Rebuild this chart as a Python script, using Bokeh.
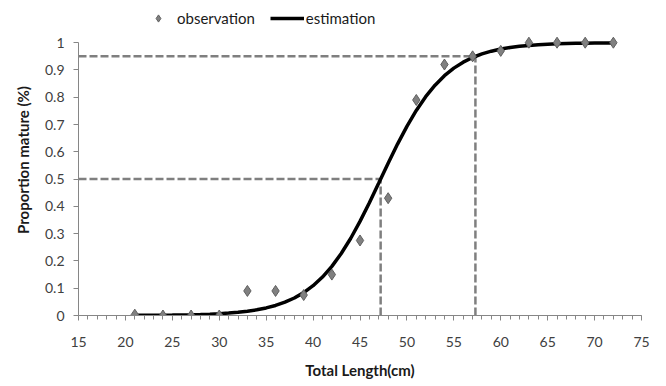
from bokeh.plotting import figure
from bokeh.models import FixedTicker, NumeralTickFormatter, Legend, LegendItem, Range1d
from bokeh.embed import file_html
from bokeh.resources import INLINE

# observations
obs_length = [21, 24, 27, 30, 33, 36, 39, 42, 45, 48, 51, 54, 57, 60, 63, 66, 69, 72]
obs_prop = [0.003, 0.0, 0.0, 0.0, 0.09, 0.09, 0.075, 0.15, 0.275, 0.43, 0.79, 0.92,
            0.95, 0.97, 1.0, 1.0, 1.0, 1.0]

# estimated maturity curve
est_length = list(range(21, 73))
est_prop = [0.0005, 0.0006, 0.0009, 0.0012, 0.0015, 0.0021, 0.0028, 0.0037, 0.0049, 0.0066,
            0.0088, 0.0118, 0.0157, 0.0209, 0.0278, 0.0368, 0.0487, 0.0641, 0.0839, 0.1092,
            0.1410, 0.1801, 0.2272, 0.2823, 0.3450, 0.4134, 0.4854, 0.5580, 0.6283, 0.6934,
            0.7518, 0.8021, 0.8443, 0.8789, 0.9067, 0.9286, 0.9457, 0.9589, 0.9689, 0.9766,
            0.9824, 0.9868, 0.9901, 0.9926, 0.9945, 0.9958, 0.9969, 0.9977, 0.9983, 0.9987,
            0.9990, 0.9993]

# reference lines (L50 and L95)
l50 = 47.2
l95 = 57.3
p50 = 0.5
p95 = 0.95

x_ticks = [15, 20, 25, 30, 35, 40, 45, 50, 55, 60, 65, 70, 75]
x_minor = list(range(15, 76))
y_ticks = [0, 0.1, 0.2, 0.3, 0.4, 0.5, 0.6, 0.7, 0.8, 0.9, 1.0]

FONT = "Lato"
GRAY = "#868686"

p = figure(width=664, height=384, output_backend="svg", toolbar_location=None,
           x_range=Range1d(15, 75), y_range=Range1d(0, 1.14),
           min_border_left=78, min_border_right=23, min_border_top=4, min_border_bottom=69)
p.outline_line_color = None
p.grid.visible = False
p.background_fill_color = "white"

# dashed reference lines
dash_kw = dict(line_color="#7f7f7f", line_width=2.5, line_dash="8 3")
p.line([x_ticks[0], l50], [p50, p50], **dash_kw)
p.line([l50, l50], [0, p50], **dash_kw)
p.line([x_ticks[0], l95], [p95, p95], **dash_kw)
p.line([l95, l95], [0, p95], **dash_kw)

est = p.line(est_length, est_prop, line_color="black", line_width=3.5)
obs = p.scatter(obs_length, obs_prop, marker="diamond", size=11,
                fill_color="#808080", line_color="#5f5f5f", line_width=1)

xa = p.xaxis[0]
xa.ticker = FixedTicker(ticks=x_ticks, minor_ticks=x_minor)
xa.axis_label = "Total Length(cm)"
ya = p.yaxis[0]
ya.ticker = FixedTicker(ticks=y_ticks)
ya.formatter = NumeralTickFormatter(format="0.[0]")
ya.axis_label = "Proportion mature (%)"
ya.bounds = (y_ticks[0], y_ticks[-1])

for ax in (xa, ya):
    ax.axis_line_color = GRAY
    ax.major_tick_line_color = GRAY
    ax.major_tick_in = 0
    ax.major_tick_out = 5
    ax.minor_tick_in = 0
    ax.minor_tick_out = 4
    ax.major_label_text_font = FONT
    ax.major_label_text_font_size = "14px"
    ax.major_label_text_color = "#404040"
    ax.axis_label_text_font = FONT
    ax.axis_label_text_font_size = "15px"
    ax.axis_label_text_font_style = "bold"
    ax.axis_label_text_color = "#1a1a1a"
xa.minor_tick_line_color = GRAY
ya.minor_tick_line_color = None

xa.major_label_standoff = 16
xa.axis_label_standoff = 11
ya.major_label_standoff = 9
ya.axis_label_standoff = 10

legend = Legend(items=[LegendItem(label="observation", renderers=[obs]),
                       LegendItem(label="estimation", renderers=[est])],
                orientation="horizontal", location=(63, 288),
                glyph_width=34, glyph_height=18, label_standoff=2, spacing=15,
                padding=0, margin=0, border_line_alpha=0, background_fill_alpha=0,
                label_text_font=FONT, label_text_font_size="15px", label_text_color="#1a1a1a")
p.add_layout(legend, "center")

open("out.html", "w").write(file_html(p, INLINE))
